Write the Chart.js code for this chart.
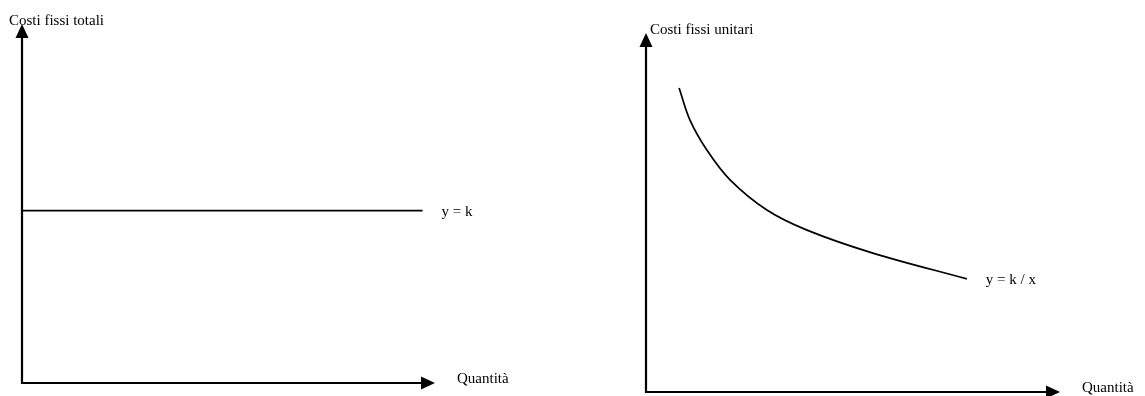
<!DOCTYPE html>
<html>
<head>
<meta charset="utf-8">
<script src="https://cdn.jsdelivr.net/npm/chart.js@4.4.0/dist/chart.umd.min.js"></script>
<style>
  body { margin: 0; background: #fff; }
  #wrap { position: relative; width: 1145px; height: 396px; }
  canvas { position: absolute; top: 0; }
  #left { left: 0; }
  #right { left: 573px; }
</style>
</head>
<body>
<div id="wrap">
  <canvas id="left" width="572" height="396"></canvas>
  <canvas id="right" width="572" height="396"></canvas>
</div>
<script>
// ---- data ----
const AXIS_MIN = 0;
const AXIS_MAX = 10;

const totalQty = [0, 9.7];
const totalCost = [4.8, 4.8];

const unitQty = [0.8, 1.06, 1.47, 2.03, 2.92, 3.89, 5.48, 7.75];
const unitCost = [8.47, 7.58, 6.74, 5.91, 5.07, 4.51, 3.87, 3.15];

const yTitles = ['Costi fissi totali', 'Costi fissi unitari'];
const xTitles = ['Quantità', 'Quantità'];
const curveLabels = ['y = k', 'y = k / x'];

const FONT = '15px "Liberation Serif", "Times New Roman", serif';

// draws the arrowed axes, the axis titles and the label at the end of the curve
const arrowAxesPlugin = {
    id: 'arrowAxes',
    afterDraw: function(chart, args, opts) {
        const ctx = chart.ctx;
        const xs = chart.scales.x;
        const ys = chart.scales.y;
        const x0 = xs.getPixelForValue(AXIS_MIN);
        const x1 = xs.getPixelForValue(AXIS_MAX);
        const y0 = ys.getPixelForValue(AXIS_MIN);
        const y1 = ys.getPixelForValue(AXIS_MAX);
        const head = 14, half = 6.5;

        ctx.save();
        ctx.strokeStyle = '#000';
        ctx.fillStyle = '#000';
        ctx.lineWidth = 2.2;
        ctx.lineCap = 'butt';

        // axes
        ctx.beginPath();
        ctx.moveTo(x0, y1 + head - 1);
        ctx.lineTo(x0, y0);
        ctx.lineTo(x1 - head + 1, y0);
        ctx.stroke();

        // arrow heads
        ctx.beginPath();
        ctx.moveTo(x0, y1);
        ctx.lineTo(x0 - half, y1 + head);
        ctx.lineTo(x0 + half, y1 + head);
        ctx.closePath();
        ctx.fill();

        ctx.beginPath();
        ctx.moveTo(x1, y0);
        ctx.lineTo(x1 - head, y0 - half);
        ctx.lineTo(x1 - head, y0 + half);
        ctx.closePath();
        ctx.fill();

        // titles
        ctx.font = FONT;
        ctx.textAlign = 'left';
        ctx.textBaseline = 'alphabetic';
        ctx.fillText(opts.yTitle, x0 + opts.yTitleDx, y1 + 1);
        ctx.fillText(opts.xTitle, x1 + 22, y0);

        // curve label next to the last point
        ctx.textBaseline = 'middle';
        const pts = chart.getDatasetMeta(0).data;
        const last = pts[pts.length - 1];
        ctx.fillText(opts.curveLabel, last.x + 19, last.y + 1);
        ctx.restore();
    }
};

function makeChart(id, xs, ys, idx, padding, yTitleDx) {
    const points = xs.map((v, i) => ({ x: v, y: ys[i] }));
    return new Chart(document.getElementById(id), {
        type: 'line',
        data: {
            datasets: [{
                data: points,
                borderColor: '#000',
                borderWidth: 1.7,
                pointRadius: 0,
                fill: false,
                tension: 0.35
            }]
        },
        options: {
            responsive: false,
            devicePixelRatio: 1,
            animation: false,
            layout: { padding: padding },
            scales: {
                x: { type: 'linear', min: AXIS_MIN, max: AXIS_MAX, display: false },
                y: { type: 'linear', min: AXIS_MIN, max: AXIS_MAX, display: false }
            },
            plugins: {
                legend: { display: false },
                tooltip: { enabled: false },
                arrowAxes: {
                    yTitle: yTitles[idx],
                    xTitle: xTitles[idx],
                    curveLabel: curveLabels[idx],
                    yTitleDx: yTitleDx
                }
            }
        },
        plugins: [arrowAxesPlugin]
    });
}

makeChart('left', totalQty, totalCost, 0, { left: 22, right: 137, top: 24, bottom: 13 }, -13);
makeChart('right', unitQty, unitCost, 1, { left: 73, right: 85, top: 33, bottom: 4 }, 4);
</script>
</body>
</html>
